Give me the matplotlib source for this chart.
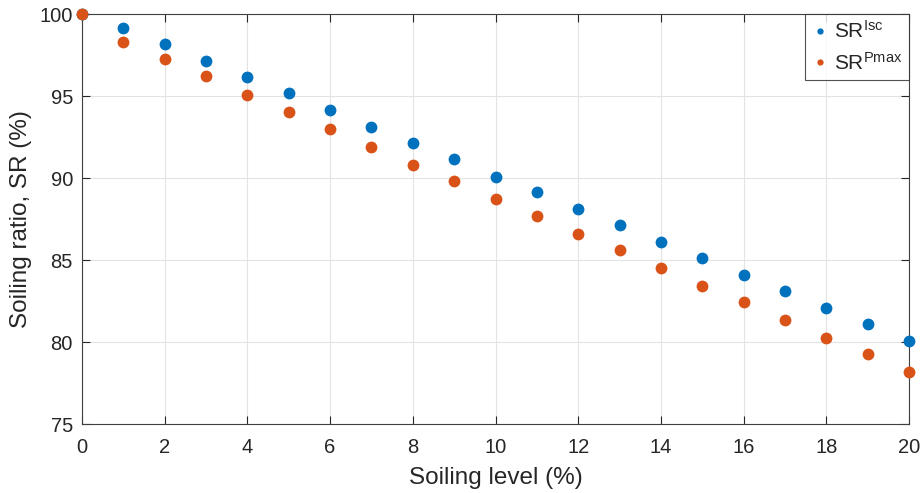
import matplotlib
matplotlib.use("Agg")
import matplotlib.pyplot as plt
from matplotlib.lines import Line2D

plt.rcParams['font.family'] = ['Liberation Sans', 'DejaVu Sans']
plt.rcParams['mathtext.fontset'] = 'custom'
plt.rcParams['mathtext.rm'] = 'Liberation Sans'
plt.rcParams['mathtext.it'] = 'Liberation Sans'

soiling_level = list(range(0, 21))
sr_isc = [100.0, 99.15, 98.17, 97.13, 96.16, 95.18, 94.15, 93.11, 92.13, 91.16, 90.08,
          89.15, 88.11, 87.13, 86.10, 85.12, 84.09, 83.11, 82.07, 81.10, 80.05]
sr_pmax = [100.0, 98.29, 97.26, 96.22, 95.06, 94.02, 92.99, 91.89, 90.79, 89.82, 88.72,
           87.68, 86.59, 85.61, 84.51, 83.41, 82.44, 81.34, 80.24, 79.27, 78.17]
xticks = list(range(0, 21, 2))
yticks = [75, 80, 85, 90, 95, 100]

blue = '#0072BD'
orange = '#D95319'
dark = '#262626'

fig = plt.figure(figsize=(9.24, 4.93), dpi=100)
ax = fig.add_axes([82/924, 1-424/493, (909-82)/924, (424-14)/493])

ax.plot(soiling_level, sr_isc, 'o', color=blue, ms=8.5, mec='none', clip_on=False, zorder=3)
ax.plot(soiling_level, sr_pmax, 'o', color=orange, ms=8.5, mec='none', clip_on=False, zorder=3)

ax.set_xlim(0, 20)
ax.set_ylim(75, 100)
ax.set_xticks(xticks)
ax.set_yticks(yticks)
ax.grid(True, color='#e3e3e3', linewidth=0.8)
ax.set_axisbelow(True)
ax.tick_params(direction='in', length=5.5, width=0.8, colors=dark, labelsize=14.5, top=True, right=True,
               labeltop=False, labelright=False)
ax.tick_params(axis='x', pad=10)
ax.tick_params(axis='y', pad=6.5)
for s in ax.spines.values():
    s.set_color('#404040')
    s.set_linewidth(0.8)

ax.set_xlabel('Soiling level (%)', fontsize=17.5, color=dark)
ax.set_ylabel('Soiling ratio, SR (%)', fontsize=17.5, color=dark, va='center')
ax.xaxis.set_label_coords(0.5, (424-467)/410)
ax.yaxis.set_label_coords((21-82)/827, 0.5)

handles = [Line2D([], [], ls='none', marker='o', color=blue, ms=4.5, mec='none'),
           Line2D([], [], ls='none', marker='o', color=orange, ms=4.5, mec='none')]
leg = ax.legend(handles, [r'SR$^{\mathrm{Isc}}$', r'SR$^{\mathrm{Pmax}}$'], loc='upper right',
                fontsize=15, frameon=True, fancybox=False, borderaxespad=0,
                handlelength=0.85, handletextpad=0.25, borderpad=0.3, labelspacing=0.45)
leg.get_frame().set_edgecolor('#262626')
leg.get_frame().set_linewidth(0.8)
for t in leg.get_texts():
    t.set_color(dark)

fig.savefig('out.png', dpi=100)
